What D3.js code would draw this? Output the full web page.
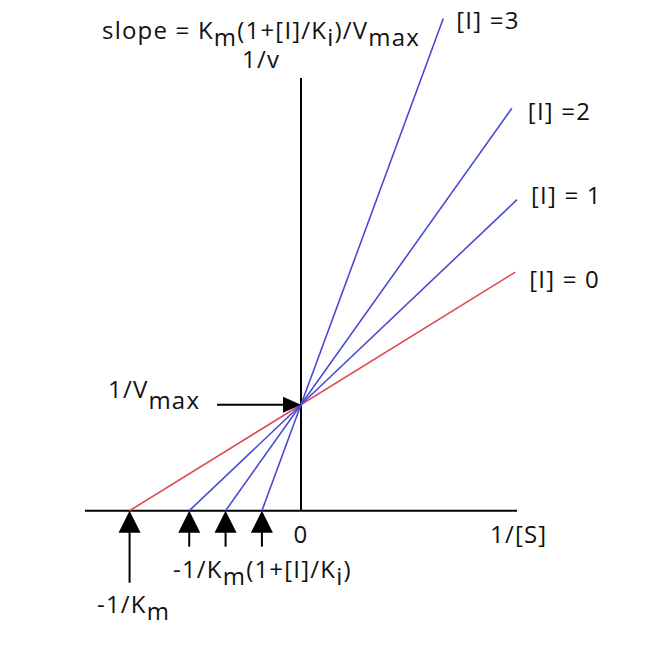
<!DOCTYPE html>
<html>
<head>
  <meta charset="UTF-8" />
  <title>Lineweaver-Burk competitive inhibition</title>
  <style>
    html, body {
      margin: 0;
      padding: 0;
      background: #fff;
    }
    svg text {
      font-family: "Open Sans", "Noto Sans", sans-serif;
      font-size: 24px;
      letter-spacing: 1.2px;
      fill: #111;
    }
  </style>
</head>
<body>
  <svg id="viz" width="662" height="646"></svg>

  <script src="https://cdn.jsdelivr.net/npm/d3@7"></script>
  <script>
    // data (1/[S] units: -1/Km = -1, 1/v units: 1/Vmax = 1)
    const inhibitor = [0, 1, 2, 3];
    const xIntercepts = [-1, -0.652, -0.44, -0.228];
    const lineEnds = [1.25, 1.26, 1.23, 0.83];
    const yIntercept = 1;
    const lineLabels = ["[I] = 0", "[I] = 1", "[I] =2", "[I] =3"];

    // label offsets from the end of each line
    const labelOffsets = [[14, 16], [14, 4], [16, 12], [13, 10]];

    const svg = d3.select("#viz");

    const x = d3.scaleLinear().domain([-1.26, 1.26]).range([85, 517]);
    const y = d3.scaleLinear().domain([0, 4.08]).range([510.7, 78]);

    // axes
    svg.append("line")
      .attr("x1", x.range()[0]).attr("x2", x.range()[1])
      .attr("y1", y(0)).attr("y2", y(0))
      .attr("stroke", "#000").attr("stroke-width", 2);
    svg.append("line")
      .attr("x1", x(0)).attr("x2", x(0))
      .attr("y1", y(0)).attr("y2", y.range()[1])
      .attr("stroke", "#000").attr("stroke-width", 2);

    // lines y = 1/Vmax * (1 + x / |x0|)
    inhibitor.forEach((d, i) => {
      const a = -xIntercepts[i];
      const x2 = lineEnds[i];
      const y2 = yIntercept * (1 + x2 / a);
      svg.append("line")
        .attr("x1", x(xIntercepts[i])).attr("y1", y(0))
        .attr("x2", x(x2)).attr("y2", y(y2))
        .attr("stroke", d === 0 ? "#e04a52" : "#4a4ad2")
        .attr("stroke-width", 1.6);

      svg.append("text")
        .attr("x", x(x2) + labelOffsets[i][0])
        .attr("y", y(y2) + labelOffsets[i][1])
        .text(lineLabels[i]);
    });

    // up arrows at x intercepts
    xIntercepts.forEach((v, i) => {
      const cx = x(v);
      const top = y(0);
      svg.append("path")
        .attr("d", `M${cx},${top} L${cx - 11},${top + 22} L${cx + 11},${top + 22} Z`)
        .attr("fill", "#000");
      svg.append("line")
        .attr("x1", cx).attr("x2", cx)
        .attr("y1", top + 20).attr("y2", i === 0 ? top + 72 : top + 36)
        .attr("stroke", "#000").attr("stroke-width", 2);
    });

    // 1/Vmax arrow
    const vx = x(0), vy = y(yIntercept);
    svg.append("line")
      .attr("x1", 217).attr("x2", vx - 16)
      .attr("y1", vy).attr("y2", vy)
      .attr("stroke", "#000").attr("stroke-width", 2);
    svg.append("path")
      .attr("d", `M${vx},${vy} L${vx - 18},${vy - 8} L${vx - 18},${vy + 8} Z`)
      .attr("fill", "#000");

    // text with subscripts
    function subText(tx, ty, parts) {
      const t = svg.append("text").attr("x", tx).attr("y", ty);
      let shift = 0;
      parts.forEach(p => {
        const s = p.sub || 0;
        t.append("tspan").attr("dy", s - shift).text(p.t);
        shift = s;
      });
      return t;
    }

    subText(102, 38.5, [
      {t: "slope = K"}, {t: "m", sub: 7}, {t: "(1+[I]/K"}, {t: "i", sub: 7},
      {t: ")/V"}, {t: "max", sub: 7}
    ]);
    svg.append("text").attr("x", 242).attr("y", 68).text("1/v");
    subText(108, 398, [{t: "1/V"}, {t: "max", sub: 11}]);
    svg.append("text").attr("x", x(0)).attr("y", 543)
      .attr("text-anchor", "middle").text("0");
    svg.append("text").attr("x", 490).attr("y", 543).text("1/[S]");
    subText(173, 578, [
      {t: "-1/K"}, {t: "m", sub: 7}, {t: "(1+[I]/K"}, {t: "i", sub: 7}, {t: ")"}
    ]);
    subText(97, 613, [{t: "-1/K"}, {t: "m", sub: 7}]);
  </script>
</body>
</html>
